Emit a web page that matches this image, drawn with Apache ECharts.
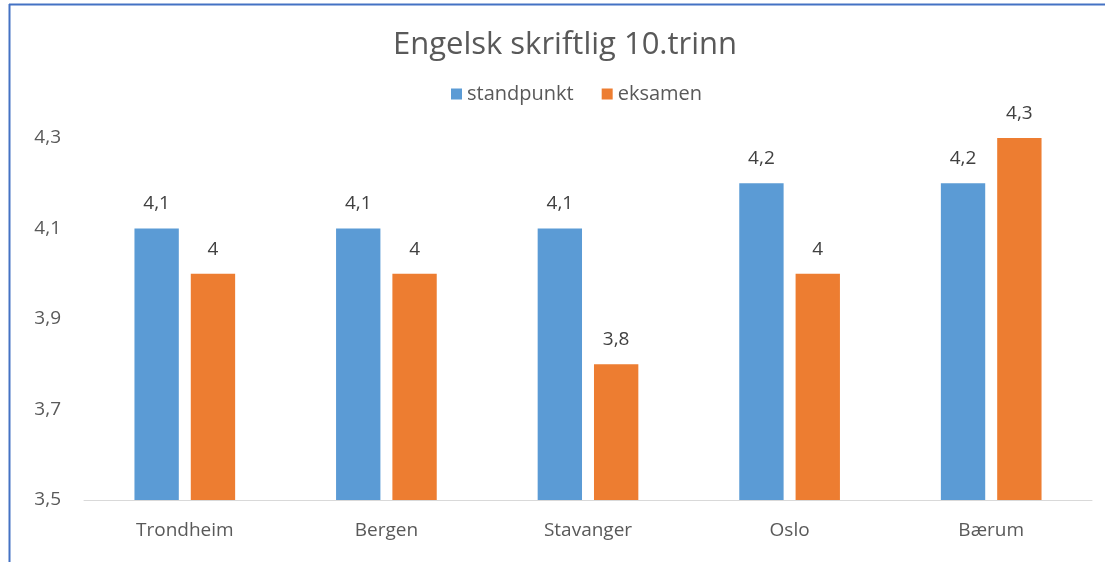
<!DOCTYPE html>
<html>
<head>
<meta charset="utf-8">
<script src="https://cdn.jsdelivr.net/npm/echarts@6/dist/echarts.min.js"></script>
<style>
  html, body { margin: 0; padding: 0; background: #fff; }
  #chart { width: 1105px; height: 562px; }
</style>
</head>
<body>
<div id="chart"></div>
<script>
// Average grades, written English, year 10
const categories = ['Trondheim', 'Bergen', 'Stavanger', 'Oslo', 'Bærum'];
const standpunkt = [4.1, 4.1, 4.1, 4.2, 4.2];
const eksamen = [4.0, 4.0, 3.8, 4.0, 4.3];
const yTicks = { min: 3.5, max: 4.3, step: 0.2 };

const comma = v => String(Math.round(v * 10) / 10).replace('.', ',');
const font = '"Open Sans", "Noto Sans", sans-serif';

const valueLabel = {
  show: true,
  position: 'top',
  distance: 15,
  fontFamily: font,
  fontSize: 19,
  color: '#404040',
  formatter: p => comma(p.value)
};

const chart = echarts.init(document.getElementById('chart'), null, { renderer: 'canvas' });
chart.setOption({
  animation: false,
  color: ['#5B9BD5', '#ED7D31'],
  title: {
    text: 'Engelsk skriftlig 10.trinn',
    left: 560,
    textAlign: 'center',
    top: 25,
    textStyle: { fontFamily: font, fontSize: 31, fontWeight: 'normal', color: '#595959' }
  },
  legend: {
    top: 79,
    left: 446,
    itemWidth: 11,
    itemHeight: 11,
    itemGap: 28,
    icon: 'rect',
    textStyle: { fontFamily: font, fontSize: 20, color: '#595959' },
    data: ['standpunkt', 'eksamen']
  },
  grid: { left: 84, right: 13, top: 138, bottom: 62, containLabel: false },
  xAxis: {
    type: 'category',
    data: categories,
    axisLine: { lineStyle: { color: '#D9D9D9', width: 1 } },
    axisTick: { show: false },
    axisLabel: { fontFamily: font, fontSize: 19, color: '#595959', margin: 21 }
  },
  yAxis: {
    type: 'value',
    min: yTicks.min,
    max: yTicks.max,
    interval: yTicks.step,
    splitLine: { show: false },
    axisLine: { show: false },
    axisTick: { show: false },
    axisLabel: { fontFamily: font, fontSize: 19, color: '#595959', margin: 23, formatter: comma }
  },
  graphic: [
    { type: 'line', shape: { x1: 9, y1: 4.5, x2: 1105, y2: 4.5 }, style: { stroke: '#4472C4', lineWidth: 2 } },
    { type: 'line', shape: { x1: 9.5, y1: 4, x2: 9.5, y2: 562 }, style: { stroke: '#4472C4', lineWidth: 2 } }
  ],
  series: [
    {
      name: 'standpunkt',
      type: 'bar',
      data: standpunkt,
      barWidth: '22%',
      barGap: '27%',
      label: valueLabel
    },
    {
      name: 'eksamen',
      type: 'bar',
      data: eksamen,
      barWidth: '22%',
      label: valueLabel
    }
  ]
});
</script>
</body>
</html>
